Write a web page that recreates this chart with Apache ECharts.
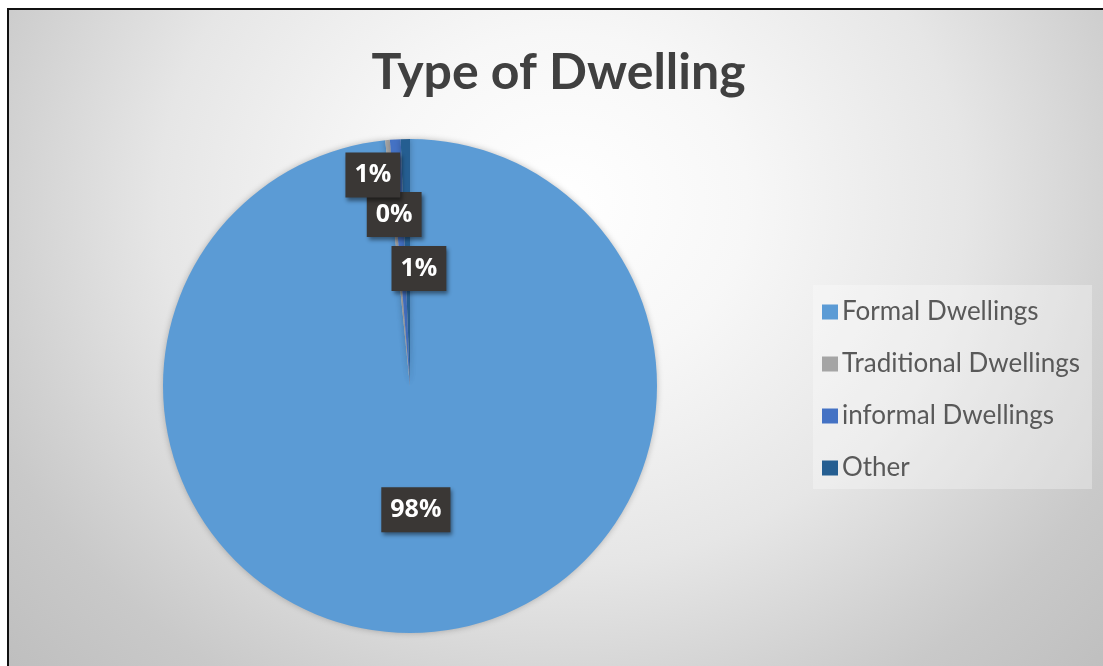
<!DOCTYPE html>
<html>
<head>
<meta charset="utf-8">
<script src="https://cdn.jsdelivr.net/npm/echarts@6/dist/echarts.min.js"></script>
<style>
  html, body { margin: 0; padding: 0; background: #ffffff; width: 1103px; height: 666px; overflow: hidden; }
  #frame {
    position: absolute; left: 7px; top: 8px; width: 1110px; height: 680px;
    border-left: 2px solid #111; border-top: 2px solid #111;
    background: radial-gradient(ellipse 620px 560px at 553px 192px, #ffffff 0%, #f7f7f7 30%, #e6e6e6 65%, #d1d1d1 90%, #c9c9c9 100%, #bdbdbd 125%);
  }
  #chart { position: absolute; left: 0; top: 0; width: 1103px; height: 666px; }
</style>
</head>
<body>
<div id="frame"></div>
<div id="chart"></div>
<script>
// ---- data ----
const categories = ['Formal Dwellings', 'Traditional Dwellings', 'informal Dwellings', 'Other'];
const values = [98.4, 0.3, 0.7, 0.6];
const colors = ['#5b9bd5', '#a5a5a5', '#4472c4', '#255e91'];
// label nudges (style only)
const labelNudge = [[-0.5, -2.5], [-4.3, -45.5], [-29.6, -84.7], [11.3, 9]];

const chart = echarts.init(document.getElementById('chart'), null, { renderer: 'canvas' });
const seriesData = categories.map((name, i) => ({ name: name, value: values[i], itemStyle: { color: colors[i] } }));

chart.setOption({
  backgroundColor: 'transparent',
  animation: false,
  title: {
    text: 'Type of Dwelling',
    left: 558.5,
    textAlign: 'center',
    top: 47,
    padding: 0,
    textStyle: { fontFamily: 'Lato', fontWeight: 'bold', fontSize: 50, color: '#404040', lineHeight: 52 }
  },
  legend: {
    orient: 'vertical',
    left: 813,
    top: 285,
    padding: [14, 12, 8, 9],
    backgroundColor: 'rgba(255,255,255,0.3)',
    icon: 'rect',
    itemWidth: 16,
    itemHeight: 15,
    itemGap: 26,
    selectedMode: false,
    data: categories,
    textStyle: { fontFamily: 'Lato', fontSize: 26, color: '#595959', lineHeight: 25, padding: [0, 0, 0, -1] }
  },
  series: [{
    type: 'pie',
    center: [410, 386],
    radius: 247,
    startAngle: 90,
    clockwise: true,
    silent: true,
    avoidLabelOverlap: false,
    itemStyle: { shadowBlur: 6, shadowColor: 'rgba(0,0,0,0.25)' },
    label: {
      show: true,
      position: 'inside',
      formatter: p => Math.round(p.percent) + '%',
      fontFamily: 'Open Sans',
      fontWeight: 'bold',
      fontSize: 25,
      lineHeight: 25,
      color: '#ffffff',
      backgroundColor: '#3a3735',
      padding: [10, 9],
      shadowColor: 'rgba(0,0,0,0.45)',
      shadowBlur: 4,
      shadowOffsetX: 2,
      shadowOffsetY: 3
    },
    labelLine: { show: false },
    labelLayout: function (params) {
      const n = labelNudge[params.dataIndex] || [0, 0];
      return { dx: n[0], dy: n[1] };
    },
    data: seriesData
  }]
});
</script>
</body>
</html>
